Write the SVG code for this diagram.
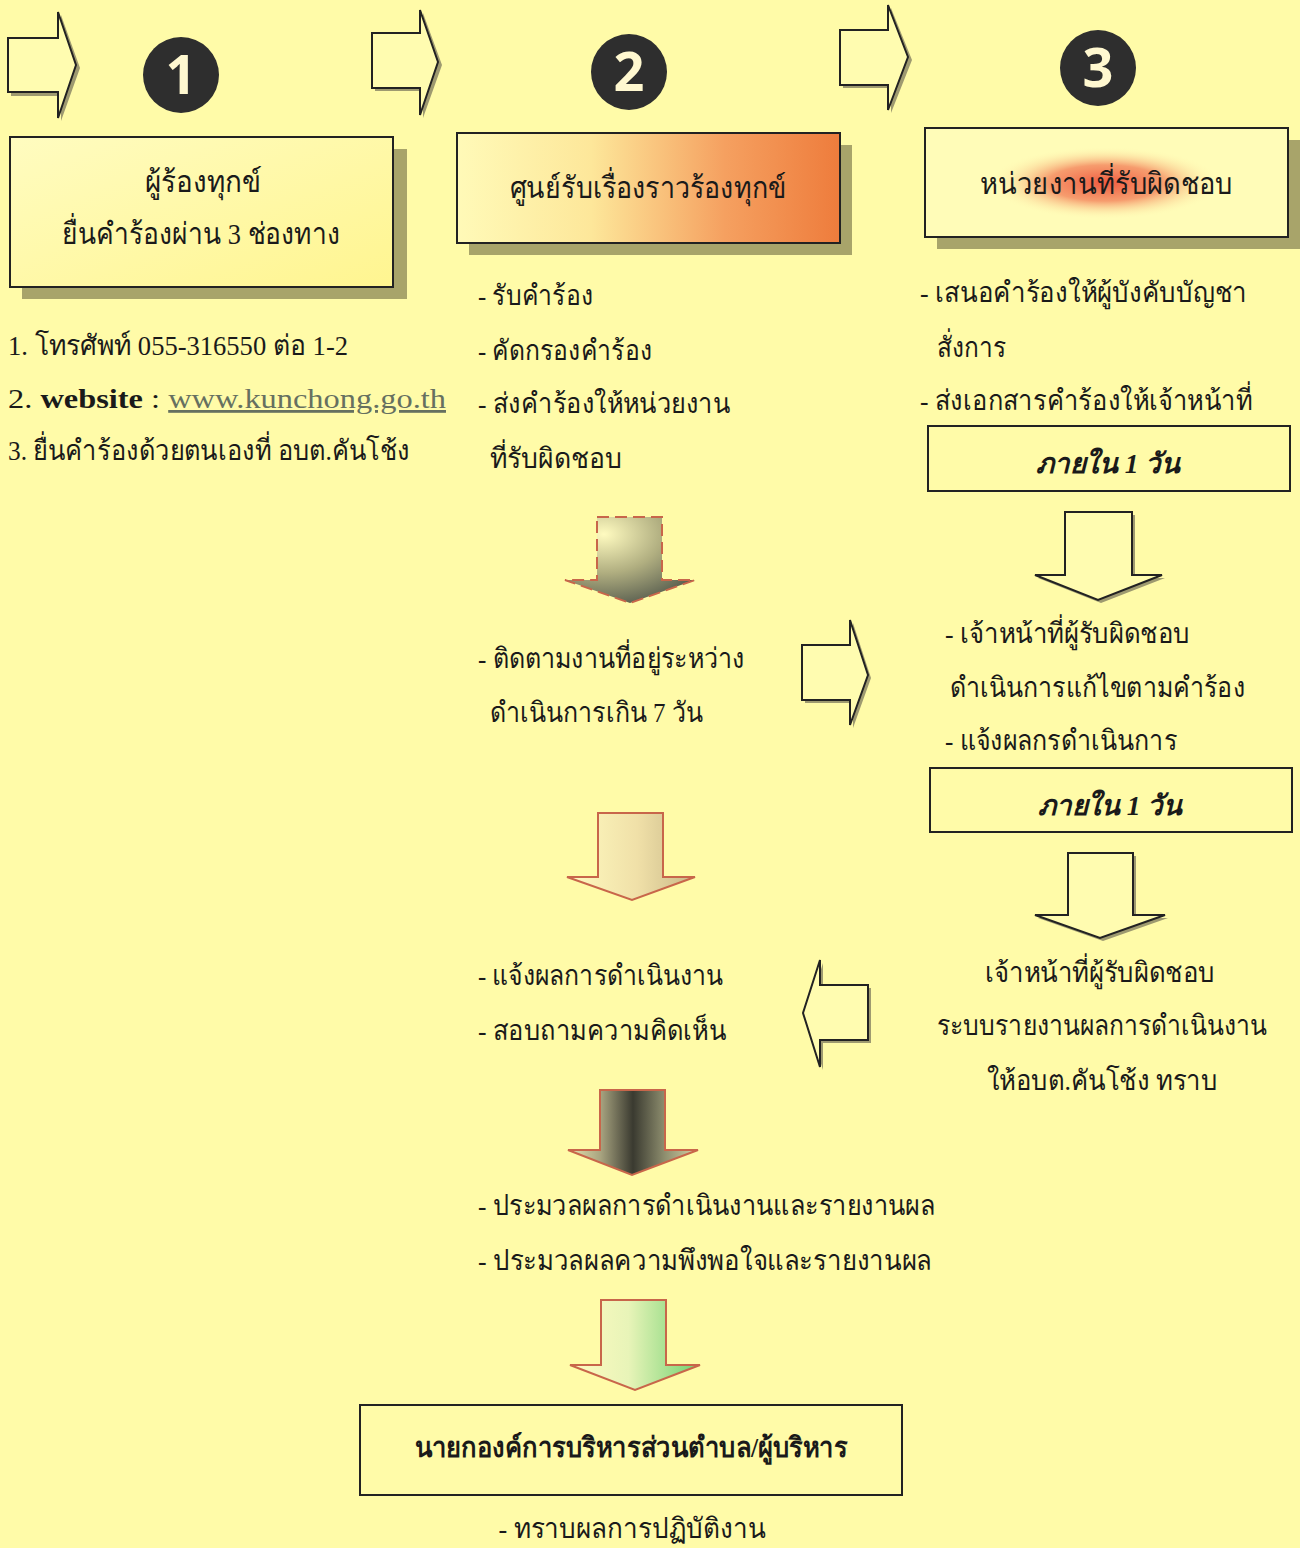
<svg xmlns="http://www.w3.org/2000/svg" width="1300" height="1548" viewBox="0 0 1300 1548">
<style>
.t{font-family:"Liberation Serif","Noto Sans","DejaVu Sans",serif;font-size:28px;fill:#1a1a1a}
.c{text-anchor:middle}
.h{font-size:30px}
.b{font-weight:bold}
.i{font-style:italic;font-weight:bold}
.box{stroke:#222;stroke-width:2}
.sh{fill:#a8a46a}
.ar{fill:#fffcb0;stroke:#222;stroke-width:2;stroke-linejoin:miter}
.ars{fill:#9e9a70}
.da{stroke:#c8664a;stroke-width:2;stroke-linejoin:miter}
.num{fill:#2e2e2e}
.numt{font-family:"Open Sans","DejaVu Sans",sans-serif;font-weight:bold;font-size:54px;fill:#fff8d0;text-anchor:middle}
</style>
<defs>
<linearGradient id="g2" x1="0" y1="0" x2="1" y2="0">
<stop offset="0" stop-color="#fffab8"/><stop offset="0.35" stop-color="#fde79a"/><stop offset="0.7" stop-color="#f5a060"/><stop offset="1" stop-color="#ee7c3c"/>
</linearGradient>
<radialGradient id="g3" cx="0.5" cy="0.5" r="0.5">
<stop offset="0" stop-color="#f05a40"/><stop offset="0.5" stop-color="#f37c55" stop-opacity="0.75"/><stop offset="1" stop-color="#fff6b0" stop-opacity="0"/>
</radialGradient>
<linearGradient id="g1" x1="0" y1="0" x2="1" y2="1">
<stop offset="0" stop-color="#fffcc0"/><stop offset="1" stop-color="#fff590"/>
</linearGradient>
<radialGradient id="ga" cx="0.3" cy="0.2" r="0.9">
<stop offset="0" stop-color="#fffbc0"/><stop offset="0.5" stop-color="#b0ae80"/><stop offset="1" stop-color="#50564a"/>
</radialGradient>
<linearGradient id="gb" x1="0" y1="0" x2="1" y2="0">
<stop offset="0" stop-color="#fffbc0"/><stop offset="0.55" stop-color="#f0e0a8"/><stop offset="1" stop-color="#c8b888"/>
</linearGradient>
<linearGradient id="gc" x1="0" y1="0" x2="1" y2="0">
<stop offset="0" stop-color="#e8e4b0"/><stop offset="0.25" stop-color="#a8a480"/><stop offset="0.5" stop-color="#3a3a30"/><stop offset="0.75" stop-color="#909070"/><stop offset="1" stop-color="#d8d4a8"/>
</linearGradient>
<linearGradient id="gd" x1="0" y1="0" x2="1" y2="0">
<stop offset="0" stop-color="#fffbc0"/><stop offset="0.45" stop-color="#e8f4b8"/><stop offset="1" stop-color="#70d070"/>
</linearGradient>
</defs>
<rect x="0" y="0" width="1300" height="1548" fill="#fffba8"/>

<g id="connectors">
<g id="arrow-top-1">
<path class="ars" d="M11,41 L61,41 L61,15 L80,68 L61,121 L61,96 L11,96 Z"/>
<path class="ar" d="M8,38 L58,38 L58,12 L76,65 L58,118 L58,92 L8,92 Z"/>
</g>
<g id="arrow-top-2">
<path class="ars" d="M375,36 L423,36 L423,13 L442,65 L423,118 L423,91 L375,91 Z"/>
<path class="ar" d="M372,33 L420,33 L420,10 L438,62 L420,115 L420,88 L372,88 Z"/>
</g>
<g id="arrow-top-3">
<path class="ars" d="M843,33 L891,33 L891,8 L912,60 L891,113 L891,88 L843,88 Z"/>
<path class="ar" d="M840,30 L888,30 L888,5 L908,57 L888,110 L888,85 L840,85 Z"/>
</g>
<g id="arrow-down-m1">
<path fill="url(#ga)" class="da" stroke-dasharray="12,6" d="M597,517 L662,517 L662,580 L695,580 L630,603 L565,580 L597,580 Z"/>
</g>
<g id="arrow-down-r1">
<path class="ars" d="M1068,515 L1135,515 L1135,578 L1165,578 L1101,603 L1038,578 L1068,578 Z"/>
<path class="ar" d="M1065,512 L1132,512 L1132,575 L1162,575 L1098,600 L1035,575 L1065,575 Z"/>
</g>
<g id="arrow-right-m">
<path class="ars" d="M805,648 L853,648 L853,623 L871,678 L853,728 L853,703 L805,703 Z"/>
<path class="ar" d="M802,645 L850,645 L850,620 L868,675 L850,725 L850,700 L802,700 Z"/>
</g>
<g id="arrow-down-m2">
<path fill="url(#gb)" class="da" d="M598,813 L663,813 L663,877 L695,877 L632,900 L567,877 L598,877 Z"/>
</g>
<g id="arrow-down-r2">
<path class="ars" d="M1071,856 L1136,856 L1136,918 L1168,918 L1103,941 L1038,918 L1071,918 Z"/>
<path class="ar" d="M1068,853 L1133,853 L1133,915 L1165,915 L1100,938 L1035,915 L1068,915 Z"/>
</g>
<g id="arrow-left">
<path class="ars" d="M871,988 L823,988 L823,963 L806,1016 L823,1070 L823,1043 L871,1043 Z"/>
<path class="ar" d="M868,985 L820,985 L820,960 L803,1013 L820,1067 L820,1040 L868,1040 Z"/>
</g>
<g id="arrow-down-m3">
<path fill="url(#gc)" class="da" d="M600,1090 L665,1090 L665,1150 L698,1150 L632,1175 L568,1150 L600,1150 Z"/>
</g>
<g id="arrow-down-m4">
<path fill="url(#gd)" class="da" d="M601,1300 L666,1300 L666,1365 L700,1365 L635,1390 L570,1365 L601,1365 Z"/>
</g>
</g>

<g id="num1"><circle class="num" cx="181" cy="75" r="38"/><text class="numt" x="181" y="94">1</text></g>
<g id="num2"><circle class="num" cx="629" cy="72" r="38"/><text class="numt" x="629" y="91">2</text></g>
<g id="num3"><circle class="num" cx="1098" cy="68" r="38"/><text class="numt" x="1098" y="87">3</text></g>

<g id="node-complainant">
<rect class="sh" x="22" y="149" width="385" height="150"/>
<rect class="box" x="10" y="137" width="383" height="150" fill="url(#g1)"/>
<text class="t h c" x="203" y="192" textLength="117" lengthAdjust="spacingAndGlyphs">ผู้ร้องทุกข์</text>
<text class="t h c" x="201" y="244" textLength="278" lengthAdjust="spacingAndGlyphs">ยื่นคำร้องผ่าน 3 ช่องทาง</text>
</g>

<g id="node-center">
<rect class="sh" x="469" y="145" width="383" height="110"/>
<rect class="box" x="457" y="133" width="383" height="110" fill="url(#g2)"/>
<text class="t h c" x="648" y="198" textLength="277" lengthAdjust="spacingAndGlyphs">ศูนย์รับเรื่องราวร้องทุกข์</text>
</g>

<g id="node-unit">
<rect class="sh" x="937" y="140" width="363" height="109"/>
<rect class="box" x="925" y="128" width="363" height="109" fill="#fffcb8" stroke-width="1.5"/>
<ellipse cx="1105" cy="183" rx="115" ry="36" fill="url(#g3)"/>
<text class="t h c" x="1106" y="194" textLength="253" lengthAdjust="spacingAndGlyphs">หน่วยงานที่รับผิดชอบ</text>
</g>

<g id="node-channels">
<text class="t" x="8" y="355" textLength="340" lengthAdjust="spacingAndGlyphs">1. โทรศัพท์ 055-316550 ต่อ 1-2</text>
<text class="t" x="8" y="408" font-size="31" textLength="438" lengthAdjust="spacingAndGlyphs">2. <tspan font-weight="bold">website</tspan> : <tspan fill="#667060" text-decoration="underline">www.kunchong.go.th</tspan></text>
<text class="t" x="8" y="460" textLength="402" lengthAdjust="spacingAndGlyphs">3. ยื่นคำร้องด้วยตนเองที่ อบต.คันโช้ง</text>
</g>

<g id="node-center-tasks">
<text class="t" x="478" y="305" textLength="115" lengthAdjust="spacingAndGlyphs">- รับคำร้อง</text>
<text class="t" x="478" y="360" textLength="174" lengthAdjust="spacingAndGlyphs">- คัดกรองคำร้อง</text>
<text class="t" x="478" y="413" textLength="252" lengthAdjust="spacingAndGlyphs">- ส่งคำร้องให้หน่วยงาน</text>
<text class="t" x="490" y="468" textLength="132" lengthAdjust="spacingAndGlyphs">ที่รับผิดชอบ</text>
</g>

<g id="node-unit-tasks">
<text class="t" x="920" y="302" textLength="327" lengthAdjust="spacingAndGlyphs">- เสนอคำร้องให้ผู้บังคับบัญชา</text>
<text class="t" x="937" y="357" textLength="69" lengthAdjust="spacingAndGlyphs">สั่งการ</text>
<text class="t" x="920" y="410" font-size="26" textLength="332" lengthAdjust="spacingAndGlyphs">- ส่งเอกสารคำร้องให้เจ้าหน้าที่</text>
</g>

<g id="node-within1">
<rect class="box" x="928" y="426" width="362" height="65" fill="none"/>
<text class="t i c" x="1108" y="473" textLength="144" lengthAdjust="spacingAndGlyphs">ภายใน  1  วัน</text>
</g>

<g id="node-follow">
<text class="t" x="478" y="668" textLength="267" lengthAdjust="spacingAndGlyphs">- ติดตามงานที่อยู่ระหว่าง</text>
<text class="t" x="490" y="722" textLength="213" lengthAdjust="spacingAndGlyphs">ดำเนินการเกิน 7 วัน</text>
</g>

<g id="node-officer">
<text class="t" x="945" y="643" textLength="245" lengthAdjust="spacingAndGlyphs">- เจ้าหน้าที่ผู้รับผิดชอบ</text>
<text class="t" x="950" y="697" font-size="26" textLength="295" lengthAdjust="spacingAndGlyphs">ดำเนินการแก้ไขตามคำร้อง</text>
<text class="t" x="945" y="750" textLength="232" lengthAdjust="spacingAndGlyphs">- แจ้งผลกรดำเนินการ</text>
</g>

<g id="node-within2">
<rect class="box" x="930" y="768" width="362" height="64" fill="none"/>
<text class="t i c" x="1110" y="815" textLength="144" lengthAdjust="spacingAndGlyphs">ภายใน  1  วัน</text>
</g>

<g id="node-report">
<text class="t c" x="1100" y="982" textLength="230" lengthAdjust="spacingAndGlyphs">เจ้าหน้าที่ผู้รับผิดชอบ</text>
<text class="t c" x="1102" y="1035" font-size="25" textLength="330" lengthAdjust="spacingAndGlyphs">ระบบรายงานผลการดำเนินงาน</text>
<text class="t c" x="1102" y="1090" textLength="231" lengthAdjust="spacingAndGlyphs">ให้อบต.คันโช้ง ทราบ</text>
</g>

<g id="node-inform">
<text class="t" x="478" y="985" textLength="245" lengthAdjust="spacingAndGlyphs">- แจ้งผลการดำเนินงาน</text>
<text class="t" x="478" y="1040" textLength="248" lengthAdjust="spacingAndGlyphs">- สอบถามความคิดเห็น</text>
</g>

<g id="node-evaluate">
<text class="t" x="478" y="1215" textLength="457" lengthAdjust="spacingAndGlyphs">- ประมวลผลการดำเนินงานและรายงานผล</text>
<text class="t" x="478" y="1270" textLength="454" lengthAdjust="spacingAndGlyphs">- ประมวลผลความพึงพอใจและรายงานผล</text>
</g>

<g id="node-executive">
<rect class="box" x="360" y="1405" width="542" height="90" fill="none"/>
<text class="t b c" x="631" y="1457" textLength="433" lengthAdjust="spacingAndGlyphs">นายกองค์การบริหารส่วนตำบล/ผู้บริหาร</text>
</g>

<g id="node-ack">
<text class="t c" x="632" y="1538" textLength="267" lengthAdjust="spacingAndGlyphs">- ทราบผลการปฏิบัติงาน</text>
</g>
</svg>
